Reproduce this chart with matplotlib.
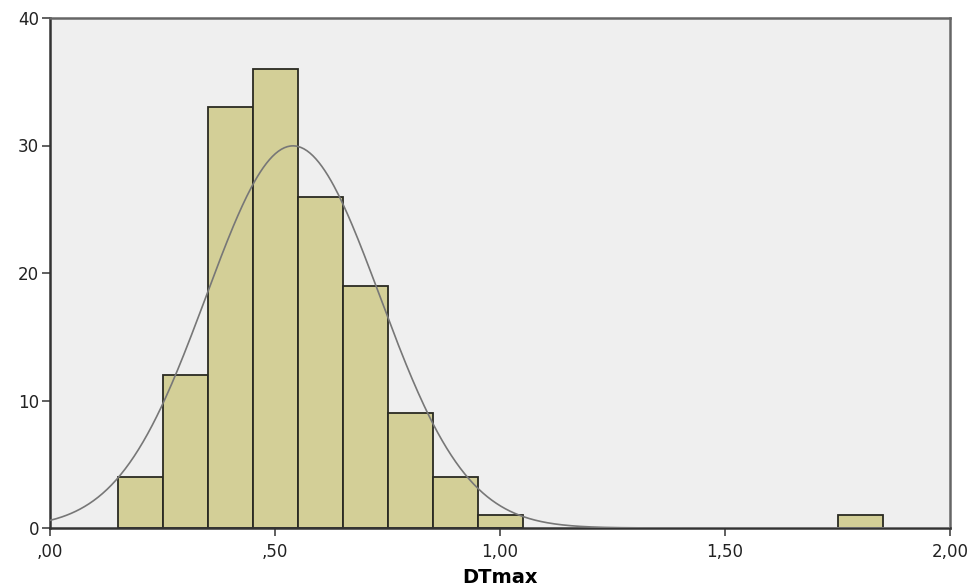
import numpy as np
import matplotlib.pyplot as plt

# Histogram bins (DTmax) and counts
bin_lefts = [0.15, 0.25, 0.35, 0.45, 0.55, 0.65, 0.75, 0.85, 0.95, 1.75]
counts = [4, 12, 33, 36, 26, 19, 9, 4, 1, 1]
bin_width = 0.1

# Normal curve parameters (SPSS overlay)
curve_mean = 0.54
curve_sd = 0.193

x_ticks = [0.0, 0.5, 1.0, 1.5, 2.0]
x_tick_labels = [',00', ',50', '1,00', '1,50', '2,00']
y_ticks = [0, 10, 20, 30, 40]


def main():
    fig = plt.figure(figsize=(9.73, 5.87), dpi=100)
    ax = fig.add_axes([50 / 973, 1 - 528 / 587, 900 / 973, 510 / 587])
    ax.set_facecolor('#efefef')

    ax.bar(bin_lefts, counts, width=bin_width, align='edge',
           color='#d3cf97', edgecolor='#2a2a22', linewidth=1.3, zorder=2)

    n = sum(counts)
    xs = np.linspace(0, 2, 600)
    ys = n * bin_width / (curve_sd * np.sqrt(2 * np.pi)) * \
        np.exp(-0.5 * ((xs - curve_mean) / curve_sd) ** 2)
    ax.plot(xs, ys, color='#777777', linewidth=1.2, zorder=3)

    ax.set_xlim(0, 2)
    ax.set_ylim(0, 40)
    ax.set_xticks(x_ticks)
    ax.set_xticklabels(x_tick_labels)
    ax.set_yticks(y_ticks)
    ax.tick_params(direction='out', length=6, width=1.2, color='#444444',
                   labelsize=12, labelcolor='#222222', pad=2)
    ax.tick_params(axis='x', pad=5)

    for side in ['left', 'bottom']:
        ax.spines[side].set_linewidth(1.8)
        ax.spines[side].set_color('#333333')
    for side in ['top', 'right']:
        ax.spines[side].set_linewidth(1.8)
        ax.spines[side].set_color('#666666')

    ax.set_xlabel('DTmax', fontsize=14, fontweight='bold', labelpad=5)

    fig.savefig('out.png', dpi=100)


if __name__ == '__main__':
    main()
